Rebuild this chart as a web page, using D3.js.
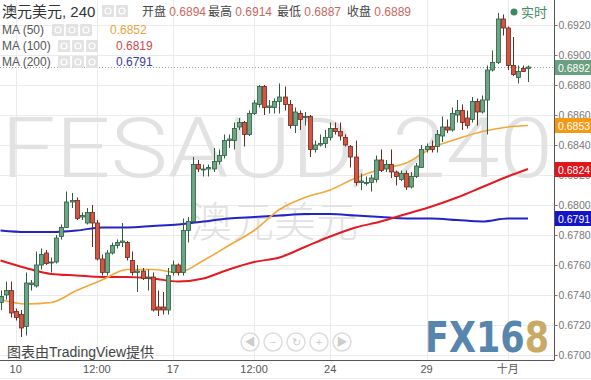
<!DOCTYPE html>
<meta charset="utf-8">
<script src="https://d3js.org/d3.v7.min.js"></script>
<style>
  body { margin: 0; background: #fff; }
  text { font-family: Arial, "Liberation Sans", "Noto Sans CJK SC", sans-serif; }
</style>
<body>
<div id="chart"></div>
<script>

// 240-minute AUD/USD candles
var open = [
  0.6735,0.6740,0.6743,0.6729,0.6727,0.6719,0.6747,0.6746,0.6760,0.6768,
  0.6762,0.6762,0.6779,0.6785,0.6802,0.6803,0.6792,0.6788,0.6795,0.6788,
  0.6764,0.6755,0.6768,0.6773,0.6775,0.6775,0.6763,0.6755,0.6756,0.6752,
  0.6752,0.6732,0.6732,0.6730,0.6755,0.6760,0.6755,0.6783,0.6789,0.6827,
  0.6824,0.6824,0.6824,0.6829,0.6833,0.6843,0.6843,0.6852,0.6855,0.6847,
  0.6861,0.6867,0.6879,0.6865,0.6865,0.6869,0.6872,0.6867,0.6853,0.6861,
  0.6859,0.6859,0.6837,0.6840,0.6841,0.6845,0.6851,0.6849,0.6845,0.6839,
  0.6832,0.6815,0.6815,0.6815,0.6817,0.6830,0.6824,0.6827,0.6822,0.6817,
  0.6821,0.6812,0.6819,0.6825,0.6837,0.6839,0.6839,0.6846,0.6852,0.6850,
  0.6860,0.6863,0.6858,0.6857,0.6869,0.6862,0.6870,0.6890,0.6895,0.6924,
  0.6918,0.6893,0.6885,0.6891,0.6891]
var high = [
  0.6743,0.6749,0.6749,0.6731,0.6730,0.6755,0.6750,0.6769,0.6771,0.6770,
  0.6765,0.6780,0.6787,0.6809,0.6808,0.6805,0.6795,0.6798,0.6800,0.6790,
  0.6767,0.6770,0.6775,0.6777,0.6788,0.6776,0.6769,0.6760,0.6758,0.6757,
  0.6755,0.6743,0.6742,0.6758,0.6763,0.6761,0.6791,0.6792,0.6832,0.6830,
  0.6827,0.6827,0.6838,0.6837,0.6847,0.6847,0.6855,0.6858,0.6856,0.6863,
  0.6870,0.6880,0.6880,0.6870,0.6871,0.6881,0.6879,0.6870,0.6865,0.6863,
  0.6862,0.6860,0.6843,0.6847,0.6850,0.6855,0.6855,0.6855,0.6847,0.6840,
  0.6843,0.6821,0.6819,0.6820,0.6833,0.6837,0.6830,0.6837,0.6823,0.6823,
  0.6823,0.6822,0.6828,0.6840,0.6841,0.6843,0.6850,0.6859,0.6857,0.6865,
  0.6870,0.6867,0.6863,0.6872,0.6871,0.6873,0.6893,0.6903,0.6928,0.6927,
  0.6919,0.6912,0.6893,0.6893,0.6893]
var low = [
  0.6730,0.6737,0.6725,0.6723,0.6712,0.6713,0.6743,0.6745,0.6757,0.6760,
  0.6755,0.6761,0.6777,0.6785,0.6798,0.6790,0.6790,0.6787,0.6772,0.6763,
  0.6753,0.6753,0.6767,0.6771,0.6772,0.6763,0.6753,0.6742,0.6750,0.6743,
  0.6729,0.6726,0.6727,0.6727,0.6753,0.6753,0.6753,0.6775,0.6788,0.6822,
  0.6819,0.6819,0.6822,0.6827,0.6831,0.6838,0.6837,0.6850,0.6839,0.6846,
  0.6860,0.6865,0.6860,0.6861,0.6861,0.6861,0.6863,0.6851,0.6848,0.6850,
  0.6853,0.6832,0.6835,0.6839,0.6838,0.6843,0.6847,0.6843,0.6839,0.6825,
  0.6813,0.6810,0.6813,0.6809,0.6815,0.6822,0.6822,0.6818,0.6813,0.6816,
  0.6810,0.6811,0.6818,0.6825,0.6835,0.6835,0.6835,0.6842,0.6848,0.6849,
  0.6855,0.6850,0.6851,0.6855,0.6853,0.6861,0.6847,0.6889,0.6894,0.6913,
  0.6890,0.6886,0.6881,0.6889,0.6882]
var close = [
  0.6739,0.6743,0.6728,0.6725,0.6718,0.6748,0.6748,0.6760,0.6767,0.6761,
  0.6762,0.6778,0.6785,0.6802,0.6803,0.6791,0.6793,0.6795,0.6788,0.6764,
  0.6755,0.6768,0.6773,0.6775,0.6776,0.6765,0.6755,0.6756,0.6751,0.6752,
  0.6730,0.6730,0.6730,0.6753,0.6760,0.6755,0.6783,0.6789,0.6827,0.6824,
  0.6824,0.6825,0.6829,0.6833,0.6843,0.6844,0.6851,0.6855,0.6847,0.6861,
  0.6868,0.6879,0.6865,0.6866,0.6869,0.6872,0.6867,0.6853,0.6862,0.6857,
  0.6859,0.6837,0.6840,0.6841,0.6845,0.6851,0.6849,0.6846,0.6840,0.6832,
  0.6815,0.6816,0.6815,0.6818,0.6830,0.6823,0.6827,0.6822,0.6819,0.6821,
  0.6812,0.6819,0.6826,0.6837,0.6839,0.6837,0.6847,0.6852,0.6850,0.6861,
  0.6863,0.6855,0.6853,0.6869,0.6862,0.6870,0.6890,0.6895,0.6924,0.6918,
  0.6893,0.6887,0.6889,0.6889,0.6892]

// moving averages, sampled every few bars
var maIdx  = [0,5,10,15,20,25,30,35,40,45,50,55,60,65,70,75,80,85,90,95,100,104]
var ma50   = [0.6737,0.6734,0.6735,0.6743,0.6750,0.6757,0.6757,0.6755,0.6763,0.6773,0.6783,
              0.6797,0.6805,0.6810,0.6818,0.6824,0.6828,0.6838,0.6844,0.6849,0.6852,0.6853]
var ma100  = [0.6763,0.6758,0.6754,0.6753,0.6752,0.6752,0.6751,0.6749,0.6751,0.6757,0.6762,
              0.6765,0.6772,0.6779,0.6785,0.6789,0.6794,0.6799,0.6805,0.6812,0.6819,0.6824]
var ma200  = [0.6783,0.6782,0.6782,0.6783,0.6785,0.6785,0.6786,0.6787,0.6789,0.6791,0.6792,
              0.6793,0.6794,0.6794,0.6793,0.6792,0.6791,0.6791,0.6790,0.6789,0.6791,0.6791]

var xTickIdx = [3, 19, 34, 50, 65, 84, 100]
var xLabels  = ["10", "12:00", "17", "12:00", "24", "29", "十月"]
var yTicks   = [0.670,0.672,0.674,0.676,0.678,0.680,0.682,0.684,0.686,0.688,0.690,0.692,0.694]

var lastPrice = 0.6892
var markers = [
  {v: 0.6892, c: "#6a9f7f"},
  {v: 0.6853, c: "#f39a14"},
  {v: 0.6824, c: "#e2141c"},
  {v: 0.6791, c: "#1414c8"}
]

var W = 591, H = 380, axisX = 554, axisY = 360

var svg = d3.select("#chart").append("svg")
  .attr("width", W).attr("height", H)
  .style("display", "block")

svg.append("rect").attr("width", W).attr("height", H).attr("fill", "#fff")

var x = d3.scaleLinear().domain([0, open.length - 1]).range([0.5, 528])
var y = d3.scaleLinear().domain([0.670, 0.692]).range([355, 25])

// grid
svg.append("g").selectAll("line").data(yTicks).join("line")
  .attr("x1", 0).attr("x2", axisX)
  .attr("y1", d => Math.round(y(d)) + 0.5).attr("y2", d => Math.round(y(d)) + 0.5)
  .attr("stroke", "#ebebeb")
svg.append("g").selectAll("line").data(xTickIdx).join("line")
  .attr("x1", d => Math.round(x(d)) + 0.5).attr("x2", d => Math.round(x(d)) + 0.5)
  .attr("y1", 0).attr("y2", axisY)
  .attr("stroke", "#ebebeb")

// watermarks
svg.append("text")
  .attr("x", 1).attr("y", 177)
  .attr("textLength", 552).attr("lengthAdjust", "spacingAndGlyphs")
  .style("font-family", "Roboto, Arial, sans-serif")
  .style("font-weight", 300)
  .style("font-size", "84px")
  .attr("fill", "#e2e2e2")
  .text("FESAUD, 240")
svg.append("text")
  .attr("x", 190).attr("y", 237)
  .style("font-family", "'Noto Sans CJK SC', sans-serif")
  .style("font-weight", 300)
  .style("font-size", "42px")
  .attr("fill", "#e2e2e2")
  .text("澳元美元")

// last price dotted line
svg.append("line")
  .attr("x1", 0).attr("x2", axisX)
  .attr("y1", Math.round(y(lastPrice)) + 0.5).attr("y2", Math.round(y(lastPrice)) + 0.5)
  .attr("stroke", "#8aa596").attr("stroke-dasharray", "1,2")

// moving averages
function maLine(vals) {
  return d3.line()
    .x((d, i) => x(maIdx[i]))
    .y(d => y(d))
    .curve(d3.curveMonotoneX)(vals)
}
svg.append("path").attr("d", maLine(ma200)).attr("fill", "none").attr("stroke", "#2323c6").attr("stroke-width", 2)
svg.append("path").attr("d", maLine(ma100)).attr("fill", "none").attr("stroke", "#e31a22").attr("stroke-width", 2)
svg.append("path").attr("d", maLine(ma50)).attr("fill", "none").attr("stroke", "#f3a63a").attr("stroke-width", 1.6)

// candles
var bars = d3.range(open.length)
var up = i => close[i] >= open[i]
var candle = svg.append("g").selectAll("g").data(bars).join("g")
candle.append("line")
  .attr("x1", i => Math.round(x(i)) + 0.5).attr("x2", i => Math.round(x(i)) + 0.5)
  .attr("y1", i => y(high[i])).attr("y2", i => y(low[i]))
  .attr("stroke", i => up(i) ? "#2d5e40" : "#6b2a20")
candle.append("rect")
  .attr("x", i => Math.round(x(i)) - 1.5)
  .attr("width", 4)
  .attr("y", i => y(Math.max(open[i], close[i])))
  .attr("height", i => Math.max(1, Math.abs(y(open[i]) - y(close[i]))))
  .attr("fill", i => up(i) ? "#6ba583" : "#d75442")
  .attr("stroke", i => up(i) ? "#2d5e40" : "#6b2a20")
  .attr("stroke-width", 0.8)

// right axis
var yAxis = svg.append("g")
  .attr("transform", `translate(${axisX + 0.5},0)`)
  .call(d3.axisRight(y).tickValues(yTicks).tickSize(3).tickFormat(d3.format(".4f")))
yAxis.select(".domain").attr("stroke", "#555").attr("d", `M0,0V${axisY}`)
yAxis.selectAll(".tick line").attr("stroke", "#777")
yAxis.selectAll(".tick text").attr("x", 4).attr("fill", "#777").style("font-size", "10.5px")

// bottom axis
svg.append("line").attr("x1", 0).attr("x2", axisX + 0.5)
  .attr("y1", axisY + 0.5).attr("y2", axisY + 0.5).attr("stroke", "#555")
svg.append("g").selectAll("text").data(xTickIdx).join("text")
  .attr("x", d => x(d)).attr("y", 373)
  .attr("text-anchor", "middle")
  .attr("fill", "#555").style("font-size", "11px")
  .text((d, i) => xLabels[i])
svg.append("line").attr("x1", 0).attr("x2", W).attr("y1", 378.5).attr("y2", 378.5).attr("stroke", "#eee")

// price markers on the axis
var mk = svg.append("g").selectAll("g").data(markers).join("g")
  .attr("transform", d => `translate(${axisX + 1},${Math.round(y(d.v)) - 7})`)
mk.append("rect").attr("width", W - axisX).attr("height", 15).attr("fill", d => d.c)
mk.append("text").attr("x", 3).attr("y", 11.5)
  .attr("fill", "#fff").style("font-size", "10.5px")
  .text(d => d3.format(".4f")(d.v))

// header
var hdr = svg.append("g")
hdr.append("text").attr("x", 2).attr("y", 17).attr("fill", "#333").style("font-size", "15px").text("澳元美元, 240")
function iconBoxes(x0, yTop, n) {
  for (var k = 0; k < n; k++) {
    hdr.append("rect").attr("x", x0 + k * 14).attr("y", yTop).attr("width", 12).attr("height", 12)
      .attr("rx", 1).attr("fill", "#e2e2e2")
    hdr.append("circle").attr("cx", x0 + k * 14 + 6).attr("cy", yTop + 6).attr("r", 3)
      .attr("fill", "none").attr("stroke", "#fff").attr("stroke-width", 1.2)
  }
}
iconBoxes(102, 5, 2)
var ohlc = [["开盘", "0.6894", 142], ["最高", "0.6914", 208], ["最低", "0.6887", 277], ["收盘", "0.6889", 347]]
ohlc.forEach(function(d) {
  var t = hdr.append("text").attr("x", d[2]).attr("y", 16).style("font-size", "12px")
  t.append("tspan").attr("fill", "#444").text(d[0] + " ")
  t.append("tspan").attr("fill", "#c8685e").text(d[1])
})

var maRows = [["MA (50)", "0.6852", "#e9a33e", 30, 52, 110], ["MA (100)", "0.6819", "#cf4a4f", 46, 58, 116], ["MA (200)", "0.6791", "#3c3c9c", 62, 58, 116]]
maRows.forEach(function(d) {
  hdr.append("text").attr("x", 2).attr("y", d[3] + 4).attr("fill", "#555").style("font-size", "12px").text(d[0])
  iconBoxes(d[4], d[3] - 6, 3)
  hdr.append("text").attr("x", d[5]).attr("y", d[3] + 4).attr("fill", d[2]).style("font-size", "12px").text(d[1])
})

hdr.append("circle").attr("cx", 514).attr("cy", 12).attr("r", 3.5).attr("fill", "#3a8a64")
hdr.append("text").attr("x", 521).attr("y", 17).attr("fill", "#3a8a64").style("font-size", "13px").text("实时")

// footer
svg.append("text").attr("x", 7).attr("y", 357).attr("fill", "#444").style("font-size", "14px").text("图表由TradingView提供")

var nav = ["◀", "−", "↻", "+", "▶"]
svg.append("g").selectAll("g").data(nav).join("g")
  .attr("transform", (d, i) => `translate(${250 + i * 23},342)`)
  .call(g => g.append("circle").attr("r", 9).attr("fill", "#fff").attr("stroke", "#ddd").attr("stroke-width", 1.5))
  .call(g => g.append("text").attr("y", 4).attr("text-anchor", "middle").attr("fill", "#ccc")
    .style("font-size", "11px").text(d => d))

var logo = svg.append("text").attr("x", 425).attr("y", 352)
  .style("font-size", "42px").style("font-weight", 900)
  .style("font-family", "'DejaVu Sans', Arial, sans-serif")
  .attr("textLength", 124).attr("lengthAdjust", "spacingAndGlyphs")
logo.append("tspan").attr("fill", "#5685ad").text("FX16")
logo.append("tspan").attr("fill", "#c9a966").text("8")

</script>
</body>
